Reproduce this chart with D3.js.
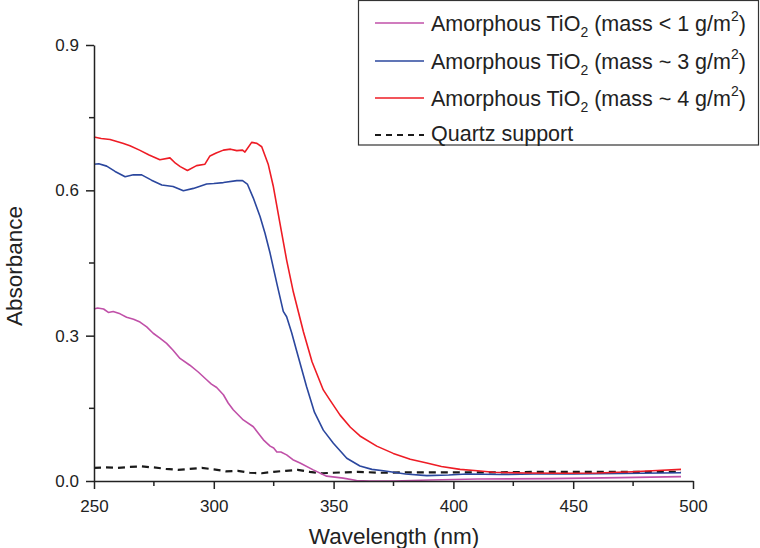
<!DOCTYPE html>
<html><head><meta charset="utf-8">
<script src="https://cdn.jsdelivr.net/npm/d3@7"></script>
<style>body{margin:0;background:#fff}svg{display:block}text{font-family:"Liberation Sans",Arial,sans-serif;fill:#222}</style>
</head><body><svg id="c" width="760" height="548"></svg>
<script>
const xTicks = [250, 300, 350, 400, 450, 500];
const xMinor = [275, 325, 375, 425, 475];
const yTicks = [0, 0.3, 0.6, 0.9];
const yMinor = [0.15, 0.45, 0.75];

const magentaWl = [250,251.5,254,256,258,260.9,263.6,266.5,269.2,272,274.7,277.5,280.3,283,285.9,290,293.5,297,299,301.2,304,306,308.1,312.3,316.5,318.5,320.7,323.5,325,326.3,328,330.4,333,336,341.5,347.1,354,359.6,365,375,390,410,440,470,495];
const magentaAbs = [0.355,0.357,0.355,0.348,0.350,0.345,0.338,0.334,0.328,0.318,0.305,0.295,0.284,0.270,0.253,0.239,0.225,0.209,0.200,0.193,0.178,0.161,0.147,0.126,0.112,0.099,0.085,0.072,0.068,0.060,0.060,0.054,0.044,0.037,0.023,0.010,0.006,0.001,0.0,0.0,0.002,0.004,0.005,0.007,0.009];

const blueWl = [250,252,255.3,258.8,263,266.4,269.9,274,278.3,283,287.3,291.5,297,300,304,309.6,312,314,316.5,319.3,321.4,323.5,326.3,329,330.4,332.5,334.5,338.7,342,345.7,349.9,355.5,361,366,370.8,380,388.9,398,405.6,420,433.4,450,470,495];
const blueAbs = [0.654,0.655,0.650,0.639,0.628,0.632,0.632,0.621,0.611,0.608,0.599,0.604,0.613,0.614,0.616,0.620,0.620,0.613,0.584,0.546,0.511,0.470,0.408,0.350,0.339,0.306,0.270,0.195,0.142,0.105,0.078,0.047,0.031,0.024,0.021,0.0145,0.011,0.0124,0.0145,0.0134,0.0145,0.0145,0.0155,0.017];

const redWl = [250,253,256.7,262,265,269,273,277.5,281.7,284,286,289,292.8,296.3,298.4,301,304,307,309.6,312,313,315.8,318,320,322.7,324.8,327.5,330.4,333.2,337.4,341,345.7,348.5,352.7,357,361,368,374.9,382,388.9,395,402.8,410,416.7,430,447.3,460,475,485,495];
const redAbs = [0.710,0.707,0.705,0.697,0.692,0.683,0.673,0.663,0.667,0.656,0.649,0.641,0.651,0.654,0.671,0.677,0.683,0.685,0.682,0.683,0.679,0.699,0.697,0.690,0.654,0.609,0.535,0.456,0.390,0.308,0.246,0.188,0.167,0.136,0.111,0.093,0.072,0.057,0.045,0.037,0.030,0.024,0.021,0.018,0.0165,0.016,0.0165,0.019,0.0217,0.024];

const quartzWl = [250,255,260,265,270,275,280,285,290,295,300,305,310,315,320,325,330,335,340,345,350,355,360,370,380,400,420,440,460,480,495];
const quartzAbs = [0.027,0.028,0.027,0.029,0.030,0.028,0.025,0.023,0.025,0.027,0.024,0.020,0.021,0.017,0.016,0.019,0.021,0.023,0.019,0.016,0.017,0.018,0.019,0.017,0.018,0.018,0.018,0.019,0.019,0.019,0.019];

const seriesNames = ["Amorphous TiO|2| (mass < 1 g/m|2|)", "Amorphous TiO|2| (mass ~ 3 g/m|2|)", "Amorphous TiO|2| (mass ~ 4 g/m|2|)", "Quartz support"];
const colors = ["#c050a8", "#2b479e", "#ee1c25", "#1a1a1a"];

const svg = d3.select("#c");
const x = d3.scaleLinear().domain([250, 500]).range([94, 693]);
const y = d3.scaleLinear().domain([0, 0.9]).range([481, 45]);

const series = [
  {wl: magentaWl, a: magentaAbs, c: colors[0], dash: null},
  {wl: blueWl, a: blueAbs, c: colors[1], dash: null},
  {wl: redWl, a: redAbs, c: colors[2], dash: null},
  {wl: quartzWl, a: quartzAbs, c: colors[3], dash: "7,5"}
];
const line = d3.line().x(d => x(d[0])).y(d => y(d[1]));
[3, 0, 1, 2].forEach(i => {
  const s = series[i];
  svg.append("path").datum(s.wl.map((w, k) => [w, s.a[k]]))
    .attr("d", line).attr("fill", "none").attr("stroke", s.c)
    .attr("stroke-width", i === 3 ? 2.2 : 1.6).attr("stroke-linejoin", "round")
    .attr("stroke-dasharray", s.dash);
});

const xAxis = d3.axisBottom(x).tickValues(xTicks).tickSize(8).tickSizeOuter(0).tickFormat(d3.format("d"));
const gx = svg.append("g").attr("transform", "translate(0,481)").call(xAxis);
gx.selectAll("line").attr("stroke", "#222").attr("stroke-width", 1.5);
gx.select(".domain").attr("stroke", "#222").attr("stroke-width", 1.5);
gx.selectAll("text").attr("font-size", 17).attr("dy", null).attr("y", 31).style("font-family", '"Liberation Sans",Arial,sans-serif').attr("fill", "#222");
gx.selectAll(".minor").data(xMinor).enter().append("line").attr("class", "minor")
  .attr("x1", d => x(d)).attr("x2", d => x(d)).attr("y1", 0).attr("y2", 5).attr("stroke", "#222").attr("stroke-width", 1.5);

const yAxis = d3.axisLeft(y).tickValues(yTicks).tickSize(8).tickSizeOuter(0).tickFormat(d3.format(".1f"));
const gy = svg.append("g").attr("transform", "translate(94,0)").call(yAxis);
gy.selectAll("line").attr("stroke", "#222").attr("stroke-width", 1.5);
gy.select(".domain").attr("stroke", "#222").attr("stroke-width", 1.5);
gy.selectAll("text").attr("font-size", 17).attr("x", -15).style("font-family", '"Liberation Sans",Arial,sans-serif').attr("fill", "#222");
gy.selectAll(".minor").data(yMinor).enter().append("line").attr("class", "minor")
  .attr("x1", 0).attr("x2", -5).attr("y1", d => y(d)).attr("y2", d => y(d)).attr("stroke", "#222").attr("stroke-width", 1.5);

svg.append("text").attr("x", 394).attr("y", 544).attr("text-anchor", "middle").attr("font-size", 22.5).text("Wavelength (nm)");
svg.append("text").attr("transform", "translate(22,266) rotate(-90)").attr("text-anchor", "middle").attr("font-size", 22.5).text("Absorbance");

const lg = svg.append("g");
lg.append("rect").attr("x", 358.5).attr("y", 0.5).attr("width", 400).attr("height", 144.5)
  .attr("fill", "#fff").attr("stroke", "#333").attr("stroke-width", 1.2);
const rowLineY = [23, 61, 98, 135];
const rowBase = [30.5, 68.5, 105.5, 141];
seriesNames.forEach((name, i) => {
  lg.append("line").attr("x1", 375).attr("x2", 424).attr("y1", rowLineY[i]).attr("y2", rowLineY[i])
    .attr("stroke", colors[i]).attr("stroke-width", i === 3 ? 1.8 : 1.6).attr("stroke-dasharray", i === 3 ? "6,5" : null);
  const t = lg.append("text").attr("x", 431).attr("y", rowBase[i]).attr("font-size", 21.5);
  const parts = name.split("|");
  let shift = 0;
  parts.forEach((p, k) => {
    if (k % 2 === 0) {
      t.append("tspan").attr("dy", -shift).text(p);
      shift = 0;
    } else {
      const s = (k === 1) ? 6 : -10;
      t.append("tspan").attr("font-size", 14).attr("dy", s).text(p);
      shift = s;
    }
  });
});
</script></body></html>
